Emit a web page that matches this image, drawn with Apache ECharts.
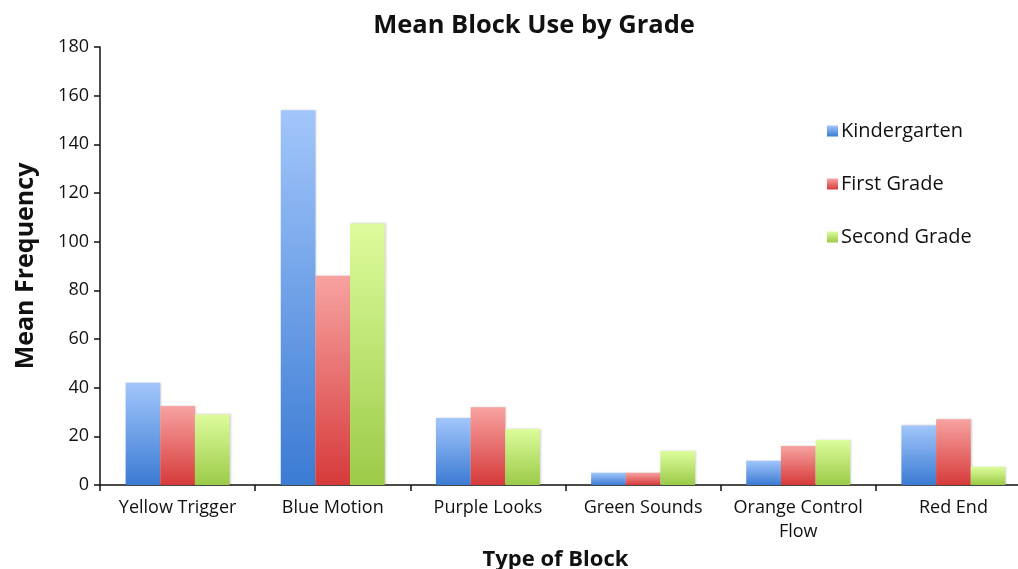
<!DOCTYPE html>
<html>
<head>
<meta charset="utf-8">
<script src="https://cdn.jsdelivr.net/npm/echarts@6/dist/echarts.min.js"></script>
<style>
  html, body { margin: 0; padding: 0; background: #fff; }
  #chart { width: 1018px; height: 569px; }
</style>
</head>
<body>
<div id="chart"></div>
<script>
// Block categories and mean use per grade
const categories = ['Yellow Trigger', 'Blue Motion', 'Purple Looks', 'Green Sounds', 'Orange Control\nFlow', 'Red End'];
const kindergarten = [42, 154, 27.5, 5, 10, 24.5];
const firstGrade = [32.5, 86, 32, 5, 16, 27];
const secondGrade = [29, 107.5, 23, 14, 18.5, 7.5];
const yTicks = { min: 0, max: 180, interval: 20 };

const FONT = '"Open Sans", sans-serif';

function grad(top, bottom) {
  return new echarts.graphic.LinearGradient(0, 0, 0, 1, [
    { offset: 0, color: top },
    { offset: 1, color: bottom }
  ]);
}

function barSeries(name, data, top, bottom) {
  return {
    name: name,
    type: 'bar',
    data: data,
    barGap: '0%',
    barCategoryGap: '33%',
    itemStyle: {
      color: grad(top, bottom),
      shadowColor: 'rgba(0,0,0,0.18)',
      shadowBlur: 2,
      shadowOffsetX: 1
    }
  };
}

const chart = echarts.init(document.getElementById('chart'), null, { renderer: 'canvas' });
chart.setOption({
  animation: false,
  backgroundColor: '#ffffff',
  title: {
    text: 'Mean Block Use by Grade',
    left: 529,
    top: 8,
    textAlign: 'center',
    textStyle: { fontFamily: FONT, fontWeight: 'bold', fontSize: 25.5, color: '#111' }
  },
  legend: {
    orient: 'vertical',
    left: 822,
    top: 116,
    itemWidth: 11,
    itemHeight: 11,
    itemGap: 33,
    icon: 'rect',
    textStyle: { fontFamily: FONT, fontSize: 20, color: '#111', padding: [0, 0, 0, -2] },
    data: ['Kindergarten', 'First Grade', 'Second Grade']
  },
  grid: { left: 100, top: 47, width: 931, bottom: 84, containLabel: false, outerBoundsMode: 'none' },
  xAxis: {
    type: 'category',
    data: categories,
    name: 'Type of Block',
    nameLocation: 'middle',
    nameGap: 52,
    nameTextStyle: { fontFamily: FONT, fontWeight: 'bold', fontSize: 22, color: '#111', padding: [0, 20, 0, 0] },
    axisLine: { lineStyle: { color: '#111', width: 1.5 } },
    axisTick: { show: true, length: 6, alignWithLabel: false, lineStyle: { color: '#111', width: 1.5 } },
    axisLabel: { interval: 0, fontFamily: FONT, fontSize: 18, color: '#111', margin: 11, lineHeight: 24 }
  },
  yAxis: {
    type: 'value',
    min: yTicks.min,
    max: yTicks.max,
    interval: yTicks.interval,
    name: 'Mean Frequency',
    nameLocation: 'middle',
    nameRotate: 90,
    nameGap: 62,
    nameTextStyle: { fontFamily: FONT, fontWeight: 'bold', fontSize: 25, color: '#111' },
    splitLine: { show: false },
    axisLine: { show: true, lineStyle: { color: '#111', width: 1.5 } },
    axisTick: { show: true, length: 6, lineStyle: { color: '#111', width: 1.5 } },
    axisLabel: { fontFamily: FONT, fontSize: 18, color: '#111', margin: 11 }
  },
  series: [
    barSeries('Kindergarten', kindergarten, '#a2c6fb', '#3b7bd3'),
    barSeries('First Grade', firstGrade, '#f7a3a1', '#d63a3a'),
    barSeries('Second Grade', secondGrade, '#ddfc9c', '#9bcb48')
  ]
});
</script>
</body>
</html>
